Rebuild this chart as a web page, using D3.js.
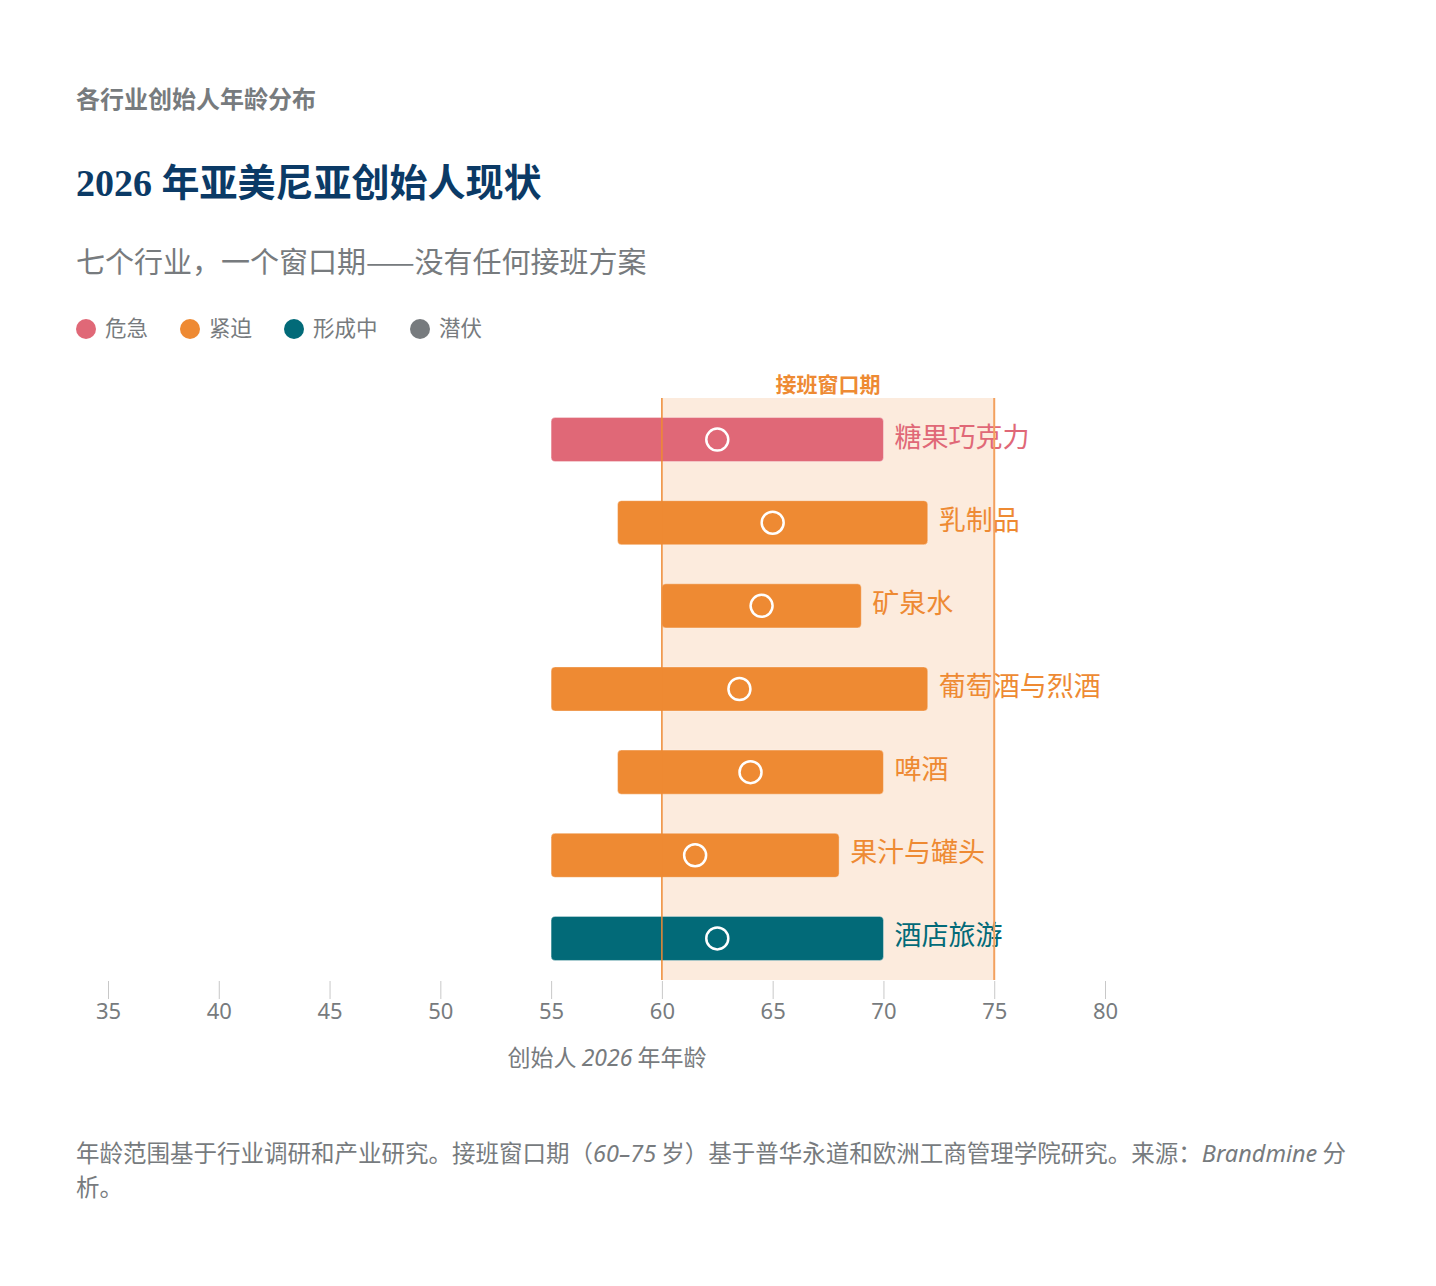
<!DOCTYPE html>
<html><head><meta charset="utf-8">
<script src="https://cdn.jsdelivr.net/npm/d3@7"></script>
<style>
body{margin:0;background:#fff;}
svg{display:block;}
</style></head>
<body><svg id="chart" width="1436" height="1286"></svg>
<script>
const categories = ["糖果巧克力","乳制品","矿泉水","葡萄酒与烈酒","啤酒","果汁与罐头","酒店旅游"];
const rangeStart = [55,58,60,55,58,55,55];
const rangeEnd   = [70,72,69,72,70,68,70];
const typicalAge = [62.5,65,64.5,63.5,64,61.5,62.5];
const status     = ["危急","紧迫","紧迫","紧迫","紧迫","紧迫","形成中"];
const statusNames = ["危急","紧迫","形成中","潜伏"];
const statusColors = ["#E06877","#EE8A33","#026A78","#777B7E"];
const tickValues = [35,40,45,50,55,60,65,70,75,80];
const windowRange = [60,75];

const svg = d3.select("#chart");
const CJK = "'Noto Sans CJK SC','Noto Sans',sans-serif";
const color = d3.scaleOrdinal().domain(statusNames).range(statusColors);

// header
svg.append("text").attr("x",76).attr("y",108).attr("font-family",CJK).attr("font-weight",700)
  .attr("font-size",24).attr("fill","#777B7E").text("各行业创始人年龄分布");
svg.append("text").attr("x",76).attr("y",196).attr("font-family","'Liberation Serif','Noto Sans CJK SC',serif").attr("font-weight",700)
  .attr("font-size",38).attr("fill","#0B3A66").text("2026 年亚美尼亚创始人现状");
svg.append("text").attr("x",76).attr("y",273).attr("font-family",CJK)
  .attr("font-size",29).attr("fill","#777B7E").text("七个行业，一个窗口期——没有任何接班方案");

// legend
const legX = [86,190,294,420];
const leg = svg.append("g");
statusNames.forEach((s,i)=>{
  leg.append("circle").attr("cx",legX[i]).attr("cy",329).attr("r",10).attr("fill",statusColors[i]);
  leg.append("text").attr("x",legX[i]+19).attr("y",336).attr("font-family",CJK).attr("font-size",21.5)
    .attr("fill","#777B7E").text(s);
});

// scales
const x = d3.scaleLinear().domain([35,80]).range([108,1105]);
const y = d3.scaleBand().domain(categories).range([398,980]).paddingInner(0.47).paddingOuter(0.235);

// window band
svg.append("rect").attr("x",x(windowRange[0])).attr("y",398)
  .attr("width",x(windowRange[1])-x(windowRange[0])).attr("height",582).attr("fill","#FCEBDD");
svg.append("text").attr("x",(x(windowRange[0])+x(windowRange[1]))/2).attr("y",392)
  .attr("text-anchor","middle").attr("font-family",CJK).attr("font-weight",700).attr("font-size",21)
  .attr("fill","#EE8A33").text("接班窗口期");

// bars
const rows = categories.map((c,i)=>({c,s:rangeStart[i],e:rangeEnd[i],t:typicalAge[i],st:status[i]}));
const g = svg.append("g");
g.selectAll("rect.bar").data(rows).join("rect").attr("class","bar")
  .attr("x",d=>x(d.s)).attr("y",d=>y(d.c)).attr("width",d=>x(d.e)-x(d.s)).attr("height",y.bandwidth())
  .attr("rx",4).attr("fill",d=>color(d.st)).attr("stroke","rgba(255,255,255,0.35)").attr("stroke-width",1);
g.selectAll("circle.dot").data(rows).join("circle").attr("class","dot")
  .attr("cx",d=>x(d.t)).attr("cy",d=>y(d.c)+y.bandwidth()/2).attr("r",11)
  .attr("fill","none").attr("stroke","#fff").attr("stroke-width",2.5);
g.selectAll("text.lab").data(rows).join("text").attr("class","lab")
  .attr("x",d=>x(d.e)+11).attr("y",d=>y(d.c)+y.bandwidth()/2+7)
  .attr("font-family",CJK).attr("font-size",27).attr("fill",d=>color(d.st)).text(d=>d.c);

// window lines
svg.append("line").attr("x1",x(windowRange[0])).attr("x2",x(windowRange[0])).attr("y1",398).attr("y2",980)
  .attr("stroke","#EE8A33").attr("stroke-width",1.5);
svg.append("line").attr("x1",x(windowRange[1])).attr("x2",x(windowRange[1])).attr("y1",398).attr("y2",980)
  .attr("stroke","#F3A15E").attr("stroke-width",2);

// axis
const axis = d3.axisBottom(x).tickValues(tickValues).tickSize(18).tickPadding(4);
const ag = svg.append("g").attr("transform","translate(0,981)").call(axis);
ag.select(".domain").remove();
ag.selectAll(".tick line").attr("stroke","#C8C8C8");
ag.selectAll(".tick text").attr("font-family","'Noto Sans',sans-serif").attr("font-size",22).attr("fill","#777B7E");

const at = svg.append("text").attr("x",607).attr("y",1066).attr("text-anchor","middle")
  .attr("font-family",CJK).attr("font-size",23).attr("fill","#777B7E");
at.append("tspan").text("创始人 ");
at.append("tspan").attr("font-style","italic").attr("font-family","'Noto Sans',sans-serif").text("2026");
at.append("tspan").text(" 年年龄");

// footer
const f1 = svg.append("text").attr("x",76).attr("y",1162).attr("font-family",CJK).attr("font-size",23.5).attr("fill","#777B7E");
f1.append("tspan").text("年龄范围基于行业调研和产业研究。接班窗口期（");
f1.append("tspan").attr("font-style","italic").attr("font-family","'Noto Sans',sans-serif").text("60–75");
f1.append("tspan").text(" 岁）基于普华永道和欧洲工商管理学院研究。来源：");
f1.append("tspan").attr("font-style","italic").attr("font-family","'Noto Sans',sans-serif").text("Brandmine");
f1.append("tspan").text(" 分");
svg.append("text").attr("x",76).attr("y",1196).attr("font-family",CJK).attr("font-size",23.5).attr("fill","#777B7E").text("析。");
</script></body></html>
